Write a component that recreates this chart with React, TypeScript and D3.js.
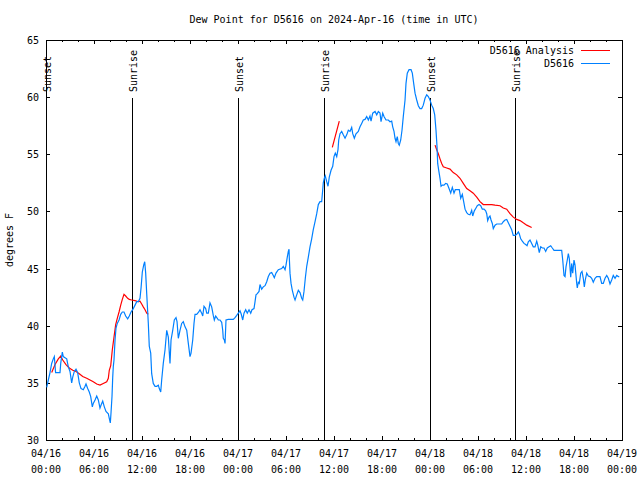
import { useEffect, useRef } from 'react';
import * as d3 from 'd3';

const TITLE = 'Dew Point for D5616 on 2024-Apr-16 (time in UTC)';
const Y_LABEL = 'degrees F';
const START_MS = Date.UTC(2024, 3, 16, 0, 0);
const SPAN_HOURS = 72;

// observed dew point (hours after 04/16 00:00 UTC, deg F)
const obsHours = [
  0.09, 0.29, 0.5, 0.71, 0.91, 1.04, 1.2, 1.75, 1.84, 2.04, 2.16, 2.38, 2.59, 2.79, 3.0, 3.21, 3.34, 3.54, 3.75, 3.96,
  4.16, 4.38, 4.66, 4.88, 5.0, 5.21, 5.41, 5.59, 5.79, 5.91, 6.13, 6.34, 6.54, 6.75, 6.91, 7.09, 7.29, 7.5, 7.79, 7.91,
  8.04, 8.13, 8.25, 8.34, 8.41, 8.5, 8.63, 8.75, 8.91, 9.13, 9.34, 9.54, 9.75, 9.96, 10.21, 10.41, 10.63, 10.84, 11.13, 11.34,
  11.54, 11.75, 11.88, 12.04, 12.21, 12.34, 12.46, 12.59, 12.79, 12.91, 13.09, 13.21, 13.41, 13.63, 13.84, 14.04, 14.16, 14.34, 14.46, 14.66,
  14.88, 15.09, 15.29, 15.5, 15.63, 15.84, 16.04, 16.25, 16.38, 16.54, 16.75, 16.96, 17.16, 17.38, 17.59, 17.79, 18.0, 18.13, 18.34, 18.5,
  18.63, 18.84, 19.09, 19.25, 19.46, 19.59, 19.75, 19.96, 20.09, 20.29, 20.5, 20.71, 20.91, 21.04, 21.21, 21.41, 21.54, 21.75, 21.96, 22.09,
  22.16, 22.29, 22.38, 22.5, 22.79, 23.41, 23.63, 23.84, 24.04, 24.25, 24.41, 24.59, 24.75, 24.96, 25.16, 25.38, 25.59, 25.75, 26.0, 26.13,
  26.25, 26.41, 26.63, 26.75, 26.96, 27.16, 27.38, 27.59, 27.79, 28.0, 28.21, 28.41, 28.54, 28.75, 29.04, 29.46, 29.66, 29.88, 30.0, 30.16,
  30.29, 30.38, 30.41, 30.5, 30.63, 30.79, 31.0, 31.13, 31.34, 31.54, 31.75, 31.96, 32.09, 32.25, 32.42, 32.59, 32.79, 33.0, 33.21, 33.41,
  33.63, 33.84, 34.04, 34.25, 34.46, 34.59, 34.66, 34.79, 34.91, 35.09, 35.25, 35.41, 35.63, 35.84, 36.0, 36.16, 36.34, 36.5, 36.59, 36.75,
  36.96, 37.16, 37.38, 37.59, 37.79, 38.0, 38.21, 38.34, 38.54, 38.75, 39.04, 39.25, 39.46, 39.66, 39.88, 40.09, 40.29, 40.5, 40.63, 40.84,
  41.13, 41.34, 41.54, 41.75, 41.88, 42.09, 42.25, 42.5, 42.79, 43.0, 43.21, 43.34, 43.5, 43.63, 43.75, 43.91, 44.04, 44.16, 44.34, 44.5,
  44.66, 44.88, 45.0, 45.16, 45.38, 45.63, 45.79, 45.96, 46.13, 46.34, 46.54, 46.75, 46.96, 47.16, 47.38, 47.59, 47.79, 48.0, 48.21, 48.41,
  48.59, 48.75, 48.88, 48.96, 49.09, 49.25, 49.38, 49.54, 49.75, 49.96, 50.16, 50.38, 50.59, 50.79, 51.0, 51.16, 51.41, 51.66, 51.84, 52.04,
  52.21, 52.38, 52.59, 52.79, 53.0, 53.21, 53.34, 53.54, 53.75, 53.91, 54.13, 54.34, 54.54, 54.75, 54.96, 55.09, 55.21, 55.38, 55.5, 55.63,
  55.79, 55.91, 56.13, 56.34, 56.96, 57.16, 57.38, 57.59, 57.79, 58.0, 58.21, 58.41, 58.63, 58.84, 59.04, 59.16, 59.34, 59.54, 59.75, 59.96,
  60.13, 60.29, 60.5, 60.71, 60.91, 61.13, 61.34, 61.46, 61.66, 61.84, 62.04, 62.25, 62.46, 62.66, 62.88, 63.09, 63.29, 63.5, 64.46, 64.59,
  64.75, 64.88, 65.0, 65.16, 65.29, 65.41, 65.59, 65.71, 65.84, 66.0, 66.13, 66.34, 66.41, 66.54, 66.66, 66.84, 67.0, 67.16, 67.29, 67.41,
  67.59, 67.79, 68.0, 68.21, 68.41, 68.63, 68.84, 69.25, 69.46, 69.66, 69.88, 70.09, 70.29, 70.5, 70.71, 70.91, 71.13, 71.34, 71.54, 71.66,
];

const obsDew = [
  34.6, 35.25, 35.9, 36.7, 37.1, 37.3, 35.9, 35.9, 36.7, 37.7, 37.3, 37.2, 37.1, 36.4, 36.0, 35.0, 35.5, 36.0, 36.2, 35.9,
  35.0, 34.5, 34.4, 34.7, 34.9, 34.5, 34.2, 33.8, 32.9, 33.2, 33.5, 33.85, 33.5, 32.8, 33.1, 33.4, 32.9, 32.5, 32.3, 31.9,
  31.5, 32.4, 33.8, 35.5, 36.4, 37.0, 38.75, 39.8, 40.2, 40.5, 41.0, 41.2, 41.2, 40.85, 40.6, 40.85, 41.2, 41.4, 41.8, 42.1,
  42.1, 42.4, 43.3, 44.7, 45.3, 45.6, 44.6, 42.8, 40.2, 38.2, 37.6, 35.8, 34.95, 34.7, 34.7, 34.8, 34.5, 34.2, 35.25, 36.7,
  37.9, 39.6, 39.0, 36.7, 38.75, 39.6, 40.5, 40.7, 40.35, 38.9, 39.6, 40.2, 40.35, 39.9, 39.6, 38.45, 37.3, 37.6, 38.75, 40.2,
  41.0, 41.0, 41.2, 41.4, 41.1, 40.85, 41.7, 41.5, 41.1, 41.1, 42.0, 41.65, 40.9, 40.5, 40.85, 40.65, 40.5, 40.5, 40.3, 39.6,
  38.9, 38.75, 38.45, 40.5, 40.55, 40.55, 40.7, 40.9, 41.1, 41.3, 41.0, 40.5, 41.1, 41.4, 41.1, 41.4, 41.1, 41.4, 41.5, 42.1,
  42.7, 42.8, 43.0, 43.6, 43.2, 43.4, 43.5, 43.85, 44.3, 44.6, 44.65, 44.4, 44.2, 44.6, 44.9, 45.0, 45.2, 44.9, 45.3, 46.0,
  46.5, 46.7, 46.0, 44.6, 43.7, 43.1, 42.5, 42.25, 42.7, 43.1, 42.9, 42.4, 42.25, 43.0, 44.2, 45.2, 46.0, 46.9, 47.6, 48.4,
  49.1, 49.8, 50.6, 50.85, 50.85, 51.9, 52.5, 52.9, 53.1, 52.6, 52.2, 53.0, 53.6, 53.95, 54.8, 55.1, 54.8, 55.4, 56.25, 56.8,
  57.0, 56.7, 56.4, 56.7, 57.1, 57.0, 57.35, 56.8, 56.4, 56.8, 57.0, 57.4, 57.7, 58.0, 58.05, 58.3, 58.0, 58.35, 57.9, 58.6,
  58.75, 58.45, 58.75, 58.6, 57.85, 58.6, 58.3, 58.0, 58.0, 57.85, 57.9, 57.4, 57.0, 56.4, 56.1, 56.55, 55.95, 55.8, 56.25, 57.1,
  58.3, 59.75, 61.2, 62.1, 62.4, 62.4, 62.1, 61.2, 60.35, 59.75, 59.25, 59.0, 59.0, 59.3, 59.9, 60.2, 60.05, 59.75, 59.3, 59.0,
  58.45, 57.1, 55.65, 54.2, 53.6, 52.9, 52.2, 52.3, 52.3, 52.45, 52.4, 52.0, 51.6, 52.1, 51.6, 51.9, 51.9, 51.9, 51.15, 51.5,
  50.85, 50.2, 49.9, 49.75, 49.7, 50.1, 49.6, 50.05, 50.3, 50.5, 50.6, 50.5, 50.2, 50.2, 50.05, 49.8, 49.2, 49.5, 49.6, 49.25,
  48.95, 48.5, 48.8, 48.9, 48.9, 49.1, 49.25, 49.3, 49.0, 48.7, 48.4, 47.9, 47.9, 48.0, 48.2, 48.05, 47.6, 47.4, 47.2, 47.1,
  47.0, 47.35, 47.5, 47.2, 46.9, 46.9, 47.4, 47.1, 46.4, 46.9, 46.8, 46.8, 46.5, 46.8, 46.9, 47.0, 46.8, 46.6, 46.6, 45.75,
  44.4, 44.3, 45.15, 45.75, 46.3, 45.9, 44.25, 45.45, 44.6, 45.75, 45.3, 43.7, 43.3, 43.8, 43.7, 44.6, 44.75, 44.15, 43.4, 44.0,
  44.6, 44.35, 44.3, 44.15, 43.8, 44.15, 44.3, 44.3, 43.7, 43.7, 44.15, 44.4, 44.15, 43.65, 44.0, 44.4, 44.15, 44.4, 44.3, 44.3,
];

// analysis dew point; null values are gaps in the analysis
const anaHours = [
  0.71, 1.13, 1.54, 1.84, 2.09, 2.5, 2.91, 3.34, 3.75, 4.16, 4.59, 5.09, 5.5, 5.91, 6.34, 6.75, 7.16, 7.59, 7.79, 7.91,
  8.09, 8.29, 8.5, 8.71, 8.91, 9.13, 9.34, 9.54, 9.75, 9.96, 10.21, 10.41, 10.71, 11.13, 11.54, 11.75, 11.96, 12.16, 12.38, 12.59,
  12.79, 13.0,
  35.79, 36.66, 37.0,
  48.63, 48.84, 49.04, 49.25, 49.46, 49.66, 50.09, 50.5, 50.91, 51.34, 51.75, 52.16, 52.59, 53.0, 53.41, 53.84, 54.25, 54.66, 55.71, 56.13,
  56.75, 57.16, 57.59, 58.0, 58.41, 58.84, 59.25, 59.66, 60.09, 60.71,
];

const anaDew: (number | null)[] = [
  35.9, 36.6, 37.1, 37.35, 37.0, 36.6, 36.3, 36.1, 36.0, 35.8, 35.55, 35.4, 35.25, 35.1, 34.9, 34.8, 34.95, 35.1, 35.4, 36.1,
  36.5, 37.9, 39.0, 40.1, 40.65, 41.2, 41.8, 42.3, 42.75, 42.6, 42.4, 42.3, 42.25, 42.2, 42.1, 42.15, 41.9, 41.65, 41.4, 41.1,
  41.0, null,
  55.6, 57.9, null,
  55.8, 55.4, 55.05, 54.6, 54.2, 53.9, 53.8, 53.7, 53.4, 53.2, 52.9, 52.45, 52.0, 51.8, 51.6, 51.25, 50.85, 50.6, 50.6, 50.55,
  50.5, 50.3, 50.2, 49.8, 49.5, 49.3, 49.2, 49.0, 48.8, 48.6,
];

const sunLabels = ['Sunset', 'Sunrise', 'Sunset', 'Sunrise', 'Sunset', 'Sunrise'];
const sunHours = [0.0, 10.75, 24.0, 34.75, 48.0, 58.63];

const legendNames = ['D5616 Analysis', 'D5616'];
const legendColors = ['#ff0000', '#0080ff'];

const hourToDate = (h: number) => new Date(START_MS + h * 3600 * 1000);

export default function App() {
  const svgRef = useRef<SVGSVGElement>(null);

  useEffect(() => {
    if (!svgRef.current) return;

    const width = 640;
    const height = 480;
    const left = 46;
    const right = 622;
    const top = 40;
    const bottom = 440;
    const font = "'DejaVu Sans Mono', monospace";

    const svg = d3.select(svgRef.current)
      .attr('width', width)
      .attr('height', height)
      .attr('viewBox', `0 0 ${width} ${height}`);

    svg.selectAll('*').remove();

    svg.append('rect').attr('width', width).attr('height', height).attr('fill', '#fff');

    const x = d3.scaleUtc()
      .domain([hourToDate(0), hourToDate(SPAN_HOURS)])
      .range([left, right]);

    const y = d3.scaleLinear()
      .domain([30, 65])
      .range([bottom, top]);

    // title
    svg.append('text')
      .text(TITLE)
      .attr('x', (left + right) / 2)
      .attr('y', 23)
      .attr('text-anchor', 'middle')
      .attr('font-family', font)
      .attr('font-size', '10px')
      .attr('fill', '#000');

    // y label
    svg.append('text')
      .text(Y_LABEL)
      .attr('transform', `translate(13, ${(top + bottom) / 2}) rotate(-90)`)
      .attr('text-anchor', 'middle')
      .attr('font-family', font)
      .attr('font-size', '10px')
      .attr('fill', '#000');

    const axes = svg.append('g').attr('shape-rendering', 'crispEdges').attr('stroke', '#000');

    // x ticks: minor every 2h, major every 6h, on bottom and top
    const minorX = x.ticks(d3.utcHour.every(2)!);
    const majorX = x.ticks(d3.utcHour.every(6)!);

    minorX.forEach(d => {
      const isMajor = d.getUTCHours() % 6 === 0;
      const len = isMajor ? 4 : 2;
      const px = Math.round(x(d)) + 0.5;
      axes.append('line').attr('x1', px).attr('x2', px).attr('y1', bottom).attr('y2', bottom - len);
      axes.append('line').attr('x1', px).attr('x2', px).attr('y1', top).attr('y2', top + len);
    });

    const fmtDay = d3.utcFormat('%m/%d');
    const fmtTime = d3.utcFormat('%H:%M');
    majorX.forEach(d => {
      const g = svg.append('g')
        .attr('font-family', font)
        .attr('font-size', '10px')
        .attr('text-anchor', 'middle')
        .attr('fill', '#000');
      g.append('text').text(fmtDay(d)).attr('x', x(d)).attr('y', 457);
      g.append('text').text(fmtTime(d)).attr('x', x(d)).attr('y', 473);
    });

    // y ticks
    const yTicks = d3.range(30, 66, 5);
    yTicks.forEach(v => {
      const py = Math.round(y(v)) + 0.5;
      axes.append('line').attr('x1', left).attr('x2', left + 4).attr('y1', py).attr('y2', py);
      axes.append('line').attr('x1', right).attr('x2', right - 4).attr('y1', py).attr('y2', py);
      svg.append('text')
        .text(String(v))
        .attr('x', 39)
        .attr('y', y(v) + 4)
        .attr('text-anchor', 'end')
        .attr('font-family', font)
        .attr('font-size', '10px')
        .attr('fill', '#000');
    });

    // sunrise / sunset markers
    sunHours.forEach((h, i) => {
      const px = Math.round(x(hourToDate(h))) + 0.5;
      axes.append('line').attr('x1', px).attr('x2', px).attr('y1', 98).attr('y2', bottom);
      svg.append('text')
        .text(sunLabels[i])
        .attr('transform', `translate(${px + 4}, 92) rotate(-90)`)
        .attr('text-anchor', 'start')
        .attr('font-family', font)
        .attr('font-size', '10px')
        .attr('fill', '#000');
    });

    // frame
    axes.append('rect')
      .attr('x', left + 0.5)
      .attr('y', top + 0.5)
      .attr('width', right - left)
      .attr('height', bottom - top)
      .attr('fill', 'none');

    const line = d3.line<[number, number | null]>()
      .defined(d => d[1] !== null)
      .x(d => x(hourToDate(d[0])))
      .y(d => y(d[1] as number));

    const anaPts = anaHours.map((h, i) => [h, anaDew[i]] as [number, number | null]);
    const obsPts = obsHours.map((h, i) => [h, obsDew[i]] as [number, number | null]);

    svg.append('path')
      .attr('d', line(anaPts))
      .attr('fill', 'none')
      .attr('stroke', legendColors[0])
      .attr('stroke-width', 1.2);

    svg.append('path')
      .attr('d', line(obsPts))
      .attr('fill', 'none')
      .attr('stroke', legendColors[1])
      .attr('stroke-width', 1.2);

    // legend
    legendNames.forEach((name, i) => {
      const ly = 50 + i * 12.5;
      svg.append('text')
        .text(name)
        .attr('x', 574)
        .attr('y', ly + 4)
        .attr('text-anchor', 'end')
        .attr('font-family', font)
        .attr('font-size', '10px')
        .attr('fill', '#000');
      svg.append('line')
        .attr('x1', 581)
        .attr('x2', 610)
        .attr('y1', Math.round(ly) + 0.5)
        .attr('y2', Math.round(ly) + 0.5)
        .attr('stroke', legendColors[i])
        .attr('stroke-width', 1)
        .attr('shape-rendering', 'crispEdges');
    });
  }, []);

  return (
    <div style={{ position: 'absolute', left: 0, top: 0, width: 640, height: 480 }}>
      <svg ref={svgRef} style={{ display: 'block' }} />
    </div>
  );
}
